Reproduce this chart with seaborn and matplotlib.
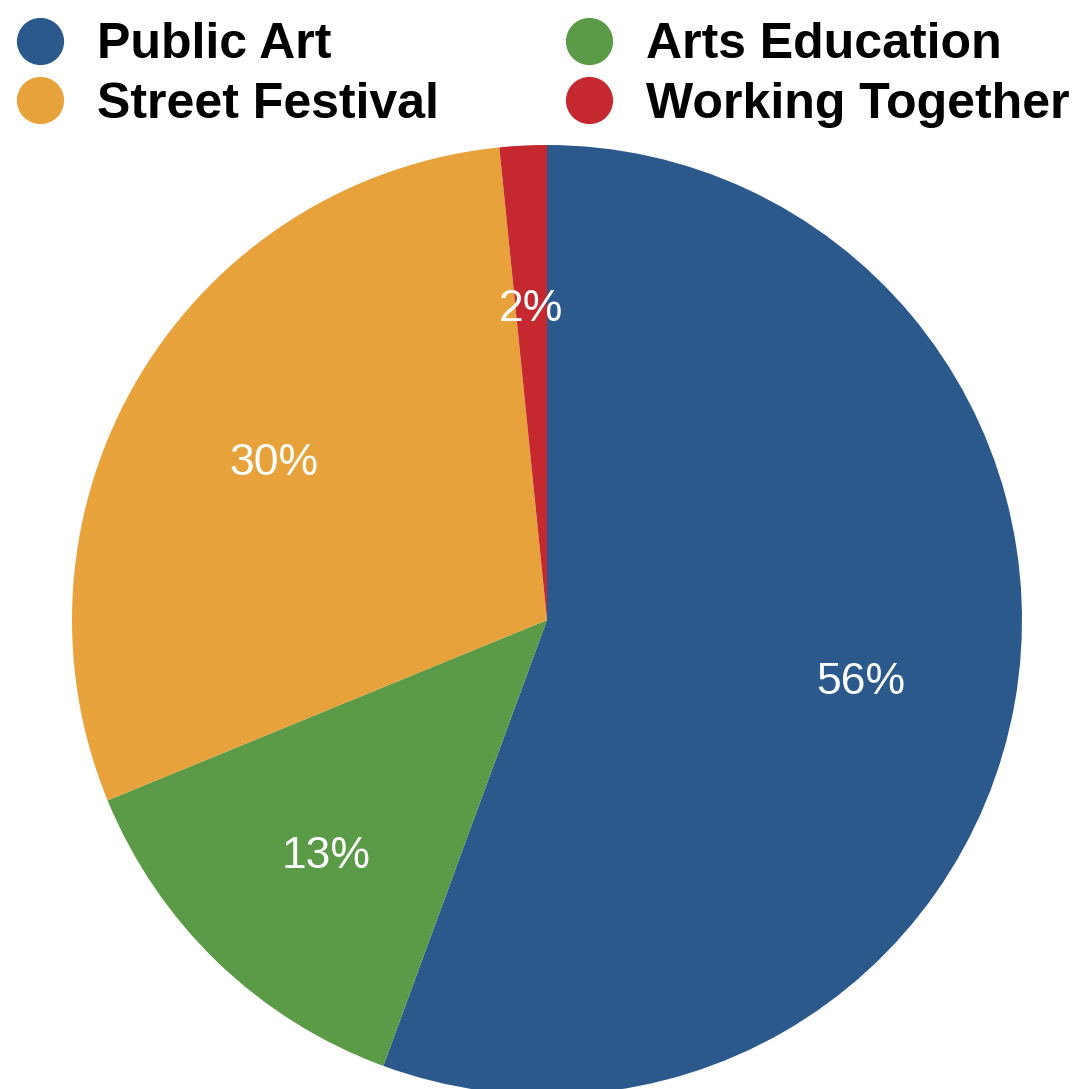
import seaborn as sns
import matplotlib.pyplot as plt
from matplotlib.lines import Line2D
from matplotlib.transforms import offset_copy

# data
categories = ["Public Art", "Arts Education", "Street Festival", "Working Together"]
shares = [55.6, 13.2, 29.6, 1.6]
colors = ["#2c598c", "#5b9a46", "#e8a23b", "#c6282f"]
legend_order = ["Public Art", "Street Festival", "Arts Education", "Working Together"]

sns.set_theme(style="white")
plt.rcParams['font.family'] = ['Liberation Sans', 'DejaVu Sans']

fig = plt.figure(figsize=(10.85, 10.89), dpi=100)
fig.patch.set_facecolor("white")

# pie axes: center at (547, 620) px, radius ~475 px
ax = fig.add_axes([72 / 1085, -6 / 1089, 950 / 1085, 950 / 1089])
wedges, texts, autotexts = ax.pie(
    shares,
    colors=colors,
    startangle=90,
    counterclock=False,
    autopct="%.0f%%",
    pctdistance=0.67,
    wedgeprops=dict(linewidth=0),
    textprops=dict(color="white", fontsize=32),
)
# labels sit a little lower in the original
for t in autotexts:
    t.set_transform(offset_copy(t.get_transform(), fig=fig, y=-7, units="dots"))
ax.set_xlim(-1, 1)
ax.set_ylim(-1, 1)
ax.set_aspect("equal")
ax.axis("off")

# legend, two columns with round markers
color_of = dict(zip(categories, colors))
handles = [
    Line2D([], [], linestyle="none", marker="o", markersize=34,
           markerfacecolor=color_of[c], markeredgewidth=0, label=c)
    for c in legend_order
]
fig.legend(
    handles=handles,
    loc="upper left",
    bbox_to_anchor=(15 / 1085, 1 - 22 / 1089),
    ncol=2,
    frameon=False,
    prop=dict(weight="bold", size=36),
    labelcolor="black",
    handlelength=1.0,
    handletextpad=0.64,
    columnspacing=2.5,
    labelspacing=0.27,
    borderpad=0,
    borderaxespad=0,
)

fig.savefig("out.png", dpi=100, facecolor="white")
